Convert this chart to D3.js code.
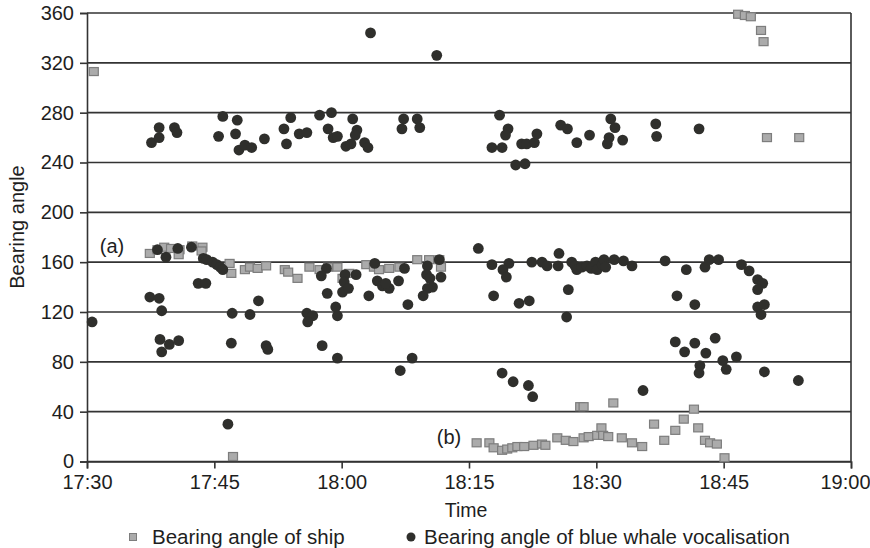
<!DOCTYPE html>
<html>
<head>
<meta charset="utf-8">
<script src="https://cdn.jsdelivr.net/npm/d3@7"></script>
<style>
  html, body { margin: 0; padding: 0; background: #fff; }
  svg { display: block; font-family: "Liberation Sans", Arial, Helvetica, sans-serif; }
</style>
</head>
<body>
<svg id="chart" width="870" height="548"></svg>
<script>
// Times are minutes after 17:00; angles in degrees.
const shipTime = [30.8,37.4,38.3,39.1,39.9,40.9,40.8,42.4,43.6,43.5,46.8,47.0,48.6,49.2,50.1,51.1,53.3,53.7,54.8,56.2,57.4,58.4,59.5,60.1,60.9,62.9,63.8,64.4,65.6,66.8,68.9,70.3,71.5,71.7,47.2,
  75.9,77.4,77.9,78.9,79.5,80.1,80.7,81.5,82.6,83.6,84.0,85.4,86.4,87.3,88.1,88.5,88.5,89.1,90.1,90.6,90.8,91.4,92.0,93.0,94.2,95.4,96.8,98.0,99.3,100.3,101.5,102.0,102.8,103.4,104.2,105.1,
  106.7,107.5,108.2,109.4,109.7,110.1,113.9];
const shipAngle = [313,167,170,172,171,170,166,173,172,169,159,151,154,156,155,157,154,152,147,156,154,156,156,147,151,158,156,154,155,156,162,162,162,156,4,
  15,15,11,9,10,11,12,12,13,14,13,19,17,16,44,44,19,20,21,27,21,20,47,19,15,12,30,17,25,34,42,27,17,15,14,3,
  359,358,357,346,337,260,260];

const whaleTime = [37.6,38.5,38.5,40.3,40.6,45.5,46.0,47.7,47.5,47.9,48.6,49.4,50.9,53.2,53.5,54.0,55.0,55.9,57.4,58.8,58.4,59.0,59.5,60.5,61.1,61.3,61.8,61.6,62.7,63.1,63.4,71.2,
  67.3,67.1,68.9,69.2,78.6,79.6,79.3,77.7,78.9,80.5,81.6,81.2,81.8,82.7,83.0,85.8,86.6,87.7,89.2,91.7,92.2,91.5,91.3,93.1,97.0,97.1,102.1,
  38.3,39.3,40.7,42.3,43.7,44.1,44.8,45.3,45.7,46.0,43.1,44.0,37.4,38.5,38.8,47.1,49.2,50.2,58.2,57.6,58.3,55.9,56.6,56.0,59.3,59.5,60.4,60.3,61.7,60.1,60.8,63.2,63.9,64.2,
  30.6,38.6,39.7,40.8,38.8,47.0,51.1,51.3,57.7,59.5,46.6,
  76.1,85.6,67.4,71.5,70.1,70.0,70.4,71.7,70.7,70.1,69.6,64.8,65.6,66.7,65.2,67.8,77.7,79.7,79.0,79.4,77.9,80.9,82.1,82.4,83.6,84.2,85.5,86.7,86.5,
  87.1,87.5,87.7,88.3,88.9,89.4,89.9,90.1,90.7,90.9,91.1,92.1,93.2,94.2,98.1,
  66.9,68.3,78.9,80.2,82.0,82.5,95.5,
  100.6,99.5,101.6,102.8,103.3,104.4,107.1,108.0,109.0,109.6,109.0,109.0,109.8,109.4,
  99.3,100.4,101.6,102.9,104.0,104.9,105.3,102.2,102.1,106.5,109.8,113.8];
const whaleAngle = [256,260,268,268,264,261,277,274,263,250,254,252,259,267,255,276,263,264,278,280,267,260,261,253,255,275,266,262,256,252,344,326,
  275,267,275,268,278,267,262,252,252,238,239,255,255,256,263,270,267,256,262,275,268,260,255,258,271,261,267,
  170,164,171,172,163,162,160,158,156,154,143,143,132,131,121,119,118,129,155,149,135,119,117,112,124,117,150,144,150,136,139,133,159,145,
  112,98,94,97,88,95,93,90,93,83,30,
  171,167,155,162,157,150,147,148,140,139,133,141,139,145,143,126,158,159,154,148,133,127,129,160,160,157,157,138,116,
  160,157,154,156,157,155,160,154,158,162,156,162,161,157,161,
  73,83,71,64,61,52,57,
  154,133,126,156,162,162,158,153,146,143,138,124,126,118,
  96,88,95,87,99,81,74,77,71,84,72,65];

const yTicks = [0,40,80,120,160,200,240,280,320,360];
const xTickMinutes = [30,45,60,75,90,105,120];
const seriesNames = ["Bearing angle of ship", "Bearing angle of blue whale vocalisation"];
const annotations = [{text: "(a)", t: 31.5, v: 167}, {text: "(b)", t: 71.2, v: 14}];

const toDate = m => new Date(2000, 0, 1, 17, 0, 0, Math.round(m * 60000));

const svg = d3.select("#chart");
const plotLeft = 87, plotRight = 851, plotTop = 13, plotBottom = 461.5;

const x = d3.scaleTime().domain([toDate(30), toDate(120)]).range([plotLeft, plotRight]);
const y = d3.scaleLinear().domain([0, 360]).range([plotBottom, plotTop]);

const ink = "#333";
const textInk = "#1e1e1e";

// horizontal grid lines
svg.append("g")
  .selectAll("line")
  .data(yTicks)
  .join("line")
  .attr("x1", plotLeft).attr("x2", plotRight)
  .attr("y1", d => y(d)).attr("y2", d => y(d))
  .attr("stroke", ink).attr("stroke-width", 1.6);

// right border
svg.append("line")
  .attr("x1", plotRight).attr("x2", plotRight).attr("y1", plotTop).attr("y2", plotBottom)
  .attr("stroke", ink).attr("stroke-width", 1.6);

// y axis
const yAxis = svg.append("g")
  .attr("transform", `translate(${plotLeft},0)`)
  .call(d3.axisLeft(y).tickValues(yTicks).tickSize(7).tickPadding(6));
// x axis
const xAxis = svg.append("g")
  .attr("transform", `translate(0,${plotBottom})`)
  .call(d3.axisBottom(x).tickValues(xTickMinutes.map(toDate)).tickFormat(d3.timeFormat("%H:%M")).tickSize(7).tickPadding(6));

[yAxis, xAxis].forEach(g => {
  g.select(".domain").attr("stroke", ink).attr("stroke-width", 1.6);
  g.selectAll(".tick line").attr("stroke", ink).attr("stroke-width", 1.6);
  g.selectAll(".tick text").attr("fill", textInk).attr("font-size", 20)
    .attr("font-family", "'Liberation Sans', Arial, sans-serif");
});
// keep the last time label inside the page
xAxis.selectAll(".tick text").filter((d, i, n) => i === n.length - 1).attr("dx", -6);

// ship bearings (grey squares)
const sq = 9;
svg.append("g")
  .selectAll("rect")
  .data(d3.range(shipTime.length))
  .join("rect")
  .attr("x", i => x(toDate(shipTime[i])) - sq / 2)
  .attr("y", i => y(shipAngle[i]) - (sq - 1) / 2)
  .attr("width", sq).attr("height", sq - 1)
  .attr("fill", "#ababab").attr("stroke", "#7d7d7d").attr("stroke-width", 1.2);

// whale vocalisation bearings (dark circles)
svg.append("g")
  .selectAll("circle")
  .data(d3.range(whaleTime.length))
  .join("circle")
  .attr("cx", i => x(toDate(whaleTime[i])))
  .attr("cy", i => y(whaleAngle[i]))
  .attr("r", 5.4)
  .attr("fill", "#2f2f2c");

// group labels
svg.append("g")
  .selectAll("text")
  .data(annotations)
  .join("text")
  .attr("x", d => x(toDate(d.t)))
  .attr("y", d => y(d.v))
  .attr("font-size", 20).attr("fill", textInk)
  .text(d => d.text);

// axis titles
svg.append("text")
  .attr("transform", "translate(24,227) rotate(-90)")
  .attr("text-anchor", "middle")
  .attr("font-size", 20).attr("fill", textInk)
  .text("Bearing angle");
svg.append("text")
  .attr("x", 466).attr("y", 517)
  .attr("text-anchor", "middle")
  .attr("font-size", 19.5).attr("fill", textInk)
  .text("Time");

// legend
const legend = svg.append("g").attr("font-size", 20.5).attr("fill", textInk);
legend.append("rect").attr("x", 129.5).attr("y", 533.5).attr("width", 7).attr("height", 7)
  .attr("fill", "#ababab").attr("stroke", "#7d7d7d").attr("stroke-width", 1);
legend.append("text").attr("x", 152).attr("y", 544).text(seriesNames[0]);
legend.append("circle").attr("cx", 411).attr("cy", 537).attr("r", 4.5).attr("fill", "#2f2f2c");
legend.append("text").attr("x", 424).attr("y", 544).text(seriesNames[1]);
</script>
</body>
</html>
